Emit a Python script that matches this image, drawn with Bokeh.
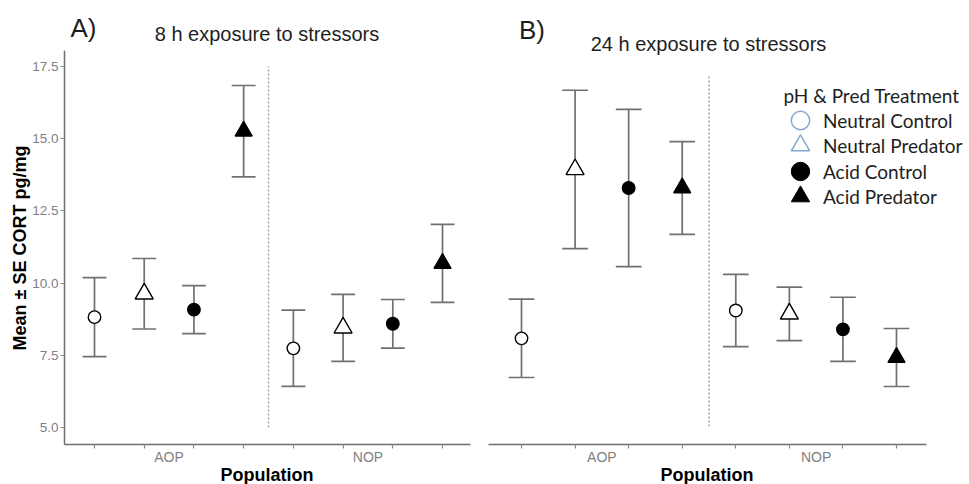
from bokeh.plotting import figure
from bokeh.layouts import row
from bokeh.models import (ColumnDataSource, FixedTicker, PrintfTickFormatter,
                          Label, Legend, LegendItem, Range1d, Title)
from bokeh.core.properties import field
from bokeh.embed import file_html
from bokeh.resources import INLINE

# ---------------- data ----------------
populations = ["AOP", "NOP"]
treatments = ["Neutral Control", "Neutral Predator", "Acid Control", "Acid Predator"]

# 8 h exposure (panel A): mean and SE, order = AOP x treatments, NOP x treatments
mean_8h = [8.82, 9.63, 9.08, 15.26, 7.74, 8.45, 8.59, 10.68]
se_8h = [1.37, 1.22, 0.83, 1.58, 1.32, 1.16, 0.84, 1.35]

# 24 h exposure (panel B)
mean_24h = [8.13, 14.13, 13.47, 13.47, 9.12, 9.00, 8.45, 7.45]
se_24h = [1.39, 2.81, 2.79, 1.65, 1.28, 0.95, 1.14, 1.03]

y_ticks = [5.0, 7.5, 10.0, 12.5, 15.0, 17.5]
divider_from, divider_to = 5.0, 17.5

panel_letters = ["A)", "B)"]
panel_titles = ["8 h exposure to stressors", "24 h exposure to stressors"]
x_label = "Population"
y_label = "Mean \u00b1 SE CORT pg/mg"
legend_title = "pH & Pred Treatment"

# ---------------- styles ----------------
FONT = "Liberation Sans"
LEG_FONT = "Lato"
EB_COLOR = "#707070"
AXIS_COLOR = "#6e6e6e"
TICK_LABEL_COLOR = "#7f7f7f"
LEG_BLUE = "#88a8d0"
style = {
    "Neutral Control": dict(marker="circle", fill="white", size=12.5),
    "Neutral Predator": dict(marker="triangle", fill="white", size=18),
    "Acid Control": dict(marker="circle", fill="black", size=12.5),
    "Acid Predator": dict(marker="triangle", fill="black", size=17),
}
CAP_HALF = 0.24


def make_title(**kw):
    try:
        return Title(**kw)
    except Exception:
        kw["standoff"] = 0
        return Title(**kw)


def build_source(means, ses):
    xs, lo, hi, mk, fl, sz = [], [], [], [], [], []
    k = 0
    for pi, _pop in enumerate(populations):
        for ti, t in enumerate(treatments):
            xs.append(pi * len(treatments) + ti + 1)
            lo.append(means[k] - ses[k])
            hi.append(means[k] + ses[k])
            mk.append(style[t]["marker"])
            fl.append(style[t]["fill"])
            sz.append(style[t]["size"])
            k += 1
    return ColumnDataSource(dict(
        x=xs, mean=means, lo=lo, hi=hi, marker=mk, fill=fl, size=sz,
        cx0=[v - CAP_HALF for v in xs], cx1=[v + CAP_HALF for v in xs]))


def make_panel(means, ses, width, xr, xb, yr, yb, bl, show_y, xlab_left):
    p = figure(width=width, height=484, output_backend="svg", toolbar_location=None,
               x_range=Range1d(*xr), y_range=Range1d(*yr),
               y_axis_location="left" if show_y else None,
               min_border_left=bl, min_border_right=0,
               min_border_top=0, min_border_bottom=40)
    p.outline_line_color = None
    p.xgrid.visible = False
    p.ygrid.visible = False
    p.background_fill_color = "white"
    p.border_fill_color = "white"

    src = build_source(means, ses)

    # divider between populations
    mid = len(treatments) + 0.5
    p.segment(x0=[mid], y0=[divider_from], x1=[mid], y1=[divider_to],
              line_color="#a0a0a0", line_width=1.5, line_dash="2 2")

    # error bars
    p.segment(x0="x", y0="lo", x1="x", y1="hi", source=src,
              line_color=EB_COLOR, line_width=1.7)
    p.segment(x0="cx0", y0="lo", x1="cx1", y1="lo", source=src,
              line_color=EB_COLOR, line_width=1.7)
    p.segment(x0="cx0", y0="hi", x1="cx1", y1="hi", source=src,
              line_color=EB_COLOR, line_width=1.7)

    # means
    p.scatter(x="x", y="mean", source=src, marker=field("marker"), size="size",
              fill_color="fill", line_color="black", line_width=1.4)

    # x axis
    xpos = src.data["x"]
    group_centers = [pi * len(treatments) + (len(treatments) + 1) / 2
                     for pi in range(len(populations))]
    ax = p.xaxis[0]
    ax.bounds = xb
    ax.ticker = FixedTicker(ticks=group_centers, minor_ticks=list(xpos))
    ax.major_label_overrides = {c: lab for c, lab in zip(group_centers, populations)}
    ax.axis_line_color = AXIS_COLOR
    ax.axis_line_width = 1.5
    ax.major_tick_out = 0
    ax.major_tick_in = 0
    ax.minor_tick_out = 4
    ax.minor_tick_in = 0
    ax.minor_tick_line_color = "#8a8a8a"
    ax.minor_tick_line_width = 1.2
    ax.major_label_text_font = FONT
    ax.major_label_text_font_size = "14px"
    ax.major_label_text_color = TICK_LABEL_COLOR
    ax.major_label_standoff = 0
    ax.axis_label_standoff = 0

    p.add_layout(make_title(text=x_label, align="left", offset=xlab_left, standoff=-9,
                            text_font=FONT, text_font_size="18px", text_font_style="bold",
                            text_color="black"), "below")

    if show_y:
        ay = p.yaxis[0]
        ay.bounds = yb
        ay.ticker = FixedTicker(ticks=y_ticks)
        ay.formatter = PrintfTickFormatter(format="%.1f")
        ay.axis_line_color = AXIS_COLOR
        ay.axis_line_width = 1.5
        ay.major_tick_out = 4
        ay.major_tick_in = 0
        ay.major_tick_line_color = "#8a8a8a"
        ay.minor_tick_out = 0
        ay.minor_tick_in = 0
        ay.major_label_text_font = FONT
        ay.major_label_text_font_size = "13.5px"
        ay.major_label_text_color = TICK_LABEL_COLOR
        ay.major_label_standoff = 2
        p.add_layout(make_title(text=y_label, align="left", offset=94, standoff=0,
                                text_font=FONT, text_font_size="18px",
                                text_font_style="bold", text_color="black"), "left")
    return p


# panel A  (frame spans x 64..480, y 0..444 of its canvas)
pA = make_panel(mean_8h, se_8h, 480, (0.3965, 8.764), (0.3965, 8.563),
                (4.41, 19.784), (4.41, 18.05), 64, True, 156)
# panel B  (frame spans x 480..969)
pB = make_panel(mean_24h, se_24h, 489, (0.2346, 9.3627), (0.384, 8.56),
                (4.361, 20.128), (4.361, 18.35), 0, False, 180)


def add_texts(p, letter, title, lx, ly, tx, ty):
    p.add_layout(Label(x=lx, y=ly, x_units="screen", y_units="screen",
                       text=letter, text_align="center", text_baseline="middle",
                       text_font=FONT, text_font_size="26px", text_color="#1e1e1e"))
    p.add_layout(Label(x=tx, y=ty, x_units="screen", y_units="screen",
                       text=title, text_align="center", text_baseline="middle",
                       text_font=FONT, text_font_size="20px", text_color="#1e1e1e"))


add_texts(pA, panel_letters[0], panel_titles[0], 19, 417, 202.5, 411)
add_texts(pB, panel_letters[1], panel_titles[1], 51.5, 415, 228, 401)

# legend (panel B): one single-item legend per treatment so glyphs can be large
nan = float("nan")
leg_left = 297
leg_first_center = 324   # distance of first item centre above frame bottom
leg_pitch = 25.3
for i, t in enumerate(treatments):
    st = style[t]
    if st["fill"] == "white":
        r = pB.scatter(x=[nan], y=[nan], marker=st["marker"], size=10, fill_color="white",
                       fill_alpha=0, line_color=LEG_BLUE, line_width=1.5)
    else:
        r = pB.scatter(x=[nan], y=[nan], marker=st["marker"], size=10, fill_color="black",
                       line_color="black", line_width=1)
    centre = leg_first_center - i * leg_pitch
    lg = Legend(items=[LegendItem(label=t, renderers=[r])],
                location=(leg_left, round(centre - 25)), orientation="vertical",
                glyph_width=46, glyph_height=50, spacing=0, padding=0, margin=0,
                label_standoff=0, label_height=20,
                label_text_font=LEG_FONT, label_text_font_size="19px",
                label_text_color="#1e1e1e",
                background_fill_alpha=0, border_line_alpha=0)
    pB.add_layout(lg)

pB.add_layout(Label(x=303, y=349, x_units="screen", y_units="screen",
                    text=legend_title, text_align="left", text_baseline="middle",
                    text_font=LEG_FONT, text_font_size="19px", text_color="#1e1e1e"))

layout = row(pA, pB)
open("out.html", "w").write(file_html(layout, INLINE))
